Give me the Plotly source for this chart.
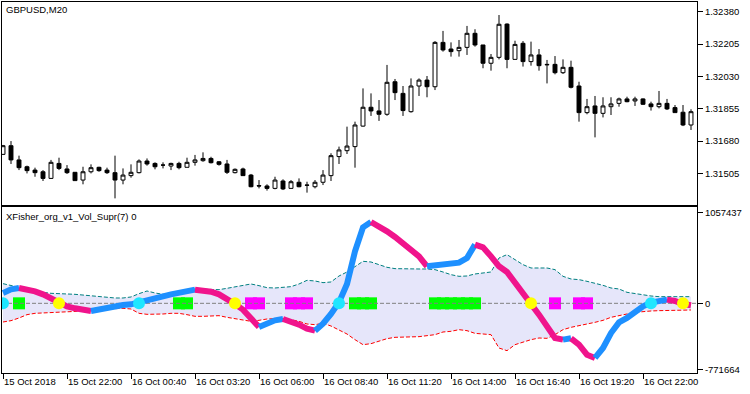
import plotly.graph_objects as go

# ---------------- data ----------------
bars = list(range(87))
time_ticks = [0, 8, 16, 24, 32, 40, 48, 56, 64, 72, 80]
time_labels = ["15 Oct 2018", "15 Oct 22:00", "16 Oct 00:40", "16 Oct 03:20",
               "16 Oct 06:00", "16 Oct 08:40", "16 Oct 11:20", "16 Oct 14:00",
               "16 Oct 16:40", "16 Oct 19:20", "16 Oct 22:00"]

open_ = [1.31608, 1.31655, 1.31578, 1.31541, 1.31523, 1.31514, 1.31478, 1.31559, 1.31529, 1.31511,
         1.31469, 1.31514, 1.31538, 1.31523, 1.31509, 1.31469, 1.31493, 1.31509, 1.31572, 1.31559,
         1.31550, 1.31545, 1.31559, 1.31538, 1.31565, 1.31574, 1.31586, 1.31568, 1.31556, 1.31509,
         1.31529, 1.31496, 1.31439, 1.31437, 1.31424, 1.31464, 1.31424, 1.31457, 1.31442, 1.31433,
         1.31457, 1.31493, 1.31596, 1.31628, 1.31650, 1.31761, 1.31863, 1.31843, 1.31825, 1.32001,
         1.31938, 1.31839, 1.31978, 1.32010, 1.31974, 1.32214, 1.32178, 1.32169, 1.32187, 1.32263,
         1.32200, 1.32101, 1.32133, 1.32313, 1.32122, 1.32209, 1.32110, 1.32146, 1.32095, 1.32095,
         1.32050, 1.32079, 1.31978, 1.31834, 1.31870, 1.31830, 1.31866, 1.31884, 1.31908, 1.31897,
         1.31908, 1.31881, 1.31866, 1.31884, 1.31861, 1.31836, 1.31767]
high = [1.31659, 1.31680, 1.31601, 1.31547, 1.31536, 1.31523, 1.31578, 1.31590, 1.31550, 1.31511,
        1.31541, 1.31554, 1.31541, 1.31536, 1.31601, 1.31532, 1.31554, 1.31581, 1.31586, 1.31565,
        1.31565, 1.31563, 1.31568, 1.31590, 1.31605, 1.31619, 1.31595, 1.31572, 1.31578, 1.31532,
        1.31536, 1.31502, 1.31469, 1.31446, 1.31487, 1.31473, 1.31469, 1.31478, 1.31460, 1.31469,
        1.31523, 1.31614, 1.31650, 1.31758, 1.31785, 1.31965, 1.31938, 1.31902, 1.32092, 1.32016,
        1.31978, 1.32019, 1.32019, 1.32032, 1.32221, 1.32276, 1.32214, 1.32227, 1.32303, 1.32285,
        1.32200, 1.32151, 1.32362, 1.32317, 1.32223, 1.32221, 1.32218, 1.32178, 1.32119, 1.32140,
        1.32122, 1.32115, 1.32001, 1.31908, 1.31924, 1.31917, 1.31917, 1.31915, 1.31920, 1.31920,
        1.31911, 1.31893, 1.31951, 1.31908, 1.31875, 1.31875, 1.31852]
low = [1.31605, 1.31556, 1.31523, 1.31505, 1.31487, 1.31464, 1.31475, 1.31523, 1.31502, 1.31466,
       1.31446, 1.31505, 1.31514, 1.31502, 1.31370, 1.31446, 1.31482, 1.31505, 1.31547, 1.31527,
       1.31532, 1.31523, 1.31527, 1.31538, 1.31547, 1.31568, 1.31559, 1.31547, 1.31502, 1.31505,
       1.31493, 1.31430, 1.31424, 1.31412, 1.31419, 1.31415, 1.31424, 1.31430, 1.31401, 1.31424,
       1.31442, 1.31464, 1.31556, 1.31610, 1.31536, 1.31758, 1.31816, 1.31789, 1.31817, 1.31902,
       1.31816, 1.31834, 1.31924, 1.31917, 1.31956, 1.32164, 1.32137, 1.32137, 1.32146, 1.32191,
       1.32074, 1.32061, 1.32122, 1.32074, 1.32122, 1.32083, 1.32088, 1.32061, 1.31992, 1.32041,
       1.32043, 1.31965, 1.31785, 1.31825, 1.31700, 1.31808, 1.31821, 1.31866, 1.31890, 1.31870,
       1.31875, 1.31845, 1.31857, 1.31848, 1.31834, 1.31761, 1.31740]
close = [1.31655, 1.31578, 1.31536, 1.31520, 1.31509, 1.31478, 1.31565, 1.31532, 1.31509, 1.31466,
         1.31514, 1.31536, 1.31520, 1.31509, 1.31469, 1.31496, 1.31511, 1.31572, 1.31556, 1.31541,
         1.31550, 1.31559, 1.31536, 1.31565, 1.31578, 1.31586, 1.31563, 1.31554, 1.31511, 1.31527,
         1.31493, 1.31433, 1.31437, 1.31424, 1.31469, 1.31421, 1.31460, 1.31433, 1.31441, 1.31457,
         1.31496, 1.31601, 1.31632, 1.31653, 1.31767, 1.31863, 1.31843, 1.31825, 1.31998, 1.31942,
         1.31845, 1.31978, 1.32010, 1.31974, 1.32214, 1.32173, 1.32164, 1.32187, 1.32263, 1.32200,
         1.32101, 1.32133, 1.32312, 1.32122, 1.32203, 1.32110, 1.32146, 1.32088, 1.32093, 1.32050,
         1.32079, 1.31971, 1.31834, 1.31866, 1.31830, 1.31870, 1.31881, 1.31908, 1.31893, 1.31908,
         1.31879, 1.31866, 1.31884, 1.31854, 1.31834, 1.31767, 1.31839]

price_ticks = [1.32380, 1.32205, 1.32030, 1.31855, 1.31680, 1.31505]

fisher = [120900, 163800, 179400, 167700, 140400, 105300, 58500, -7800, -35100, -58500,
          -78000, -89700, -70200, -46800, -31200, -19500, -11700, 7800, 27300, 54600,
          81900, 105300, 124800, 136500, 159900, 152100, 136500, 105300, 58500, -7800,
          -74100, -171600, -276900, -230100, -198900, -183300, -210600, -249600, -296400, -319800,
          -237900, -124800, 11700, 226200, 608400, 889200, 951600, 900900, 842400, 776100,
          705900, 639600, 549900, 432900, 440700, 452400, 460200, 475800, 530400, 686400,
          655200, 549900, 432900, 366600, 249600, 120900, -7800, -132600, -276900, -405600,
          -425100, -409500, -483600, -600600, -639600, -522600, -347100, -222300, -171600, -93600,
          -35100, 7800, 31200, 42900, 27300, -7800, -23400]
upper_band = [230100, 206700, 187200, 171600, 148200, 128700, 117000, 109200, 109200, 105300,
              97500, 89700, 74100, 70200, 62400, 62400, 74100, 113100, 144300, 120900,
              105300, 113100, 136500, 152100, 167700, 167700, 163800, 159900, 175500, 195000,
              214500, 226200, 206700, 183300, 179400, 187200, 195000, 226200, 269100, 261300,
              241800, 249600, 319800, 366600, 432900, 491400, 483600, 452400, 421200, 405600,
              401700, 401700, 401700, 401700, 393900, 366600, 335400, 315900, 319800, 343200,
              354900, 366600, 530400, 569400, 510900, 452400, 413400, 413400, 413400, 393900,
              315900, 284700, 276900, 257400, 237900, 210600, 179400, 167700, 128700, 113100,
              101400, 85800, 78000, 78000, 78000, 78000, 78000]
lower_band = [-218400, -202800, -171600, -132600, -117000, -113100, -109200, -105300, -101400, -93600,
              -93600, -85800, -70200, -66300, -62400, -58500, -66300, -117000, -128700, -128700,
              -124800, -117000, -117000, -132600, -152100, -152100, -144300, -144300, -163800, -179400,
              -198900, -210600, -198900, -183300, -179400, -179400, -191100, -210600, -241800, -249600,
              -234000, -265200, -312000, -358800, -425100, -483600, -471900, -444600, -413400, -397800,
              -397800, -397800, -390000, -378300, -366600, -335400, -327600, -308100, -319800, -351000,
              -358800, -366600, -522600, -553800, -483600, -452400, -425100, -405600, -409500, -366600,
              -308100, -280800, -257400, -241800, -222300, -198900, -163800, -148200, -124800, -105300,
              -93600, -89700, -85800, -85800, -85800, -85800, -78000]
cross_up = [0, 17, 42, 81]
cross_down = [7, 29, 66, 85]
vol_up_bars = [2, 22, 23, 44, 45, 46, 54, 55, 56, 57, 58, 59]
vol_down_bars = [31, 32, 36, 37, 38, 69, 72, 73]
ind_ticks = [1057437, 0, -771664]
ind_tick_text = ["1057437", "0", "-771664"]

# ---------------- style ----------------
FONT = "Liberation Sans"
FS = 9.5
XR = [-0.125, 86.75]
BLUE = "#1E90FF"
PINK = "#F0148C"

fig = go.Figure()

# top panel: candles
fig.add_trace(go.Candlestick(
    x=bars, open=open_, high=high, low=low, close=close,
    increasing=dict(line=dict(color="black", width=1), fillcolor="white"),
    decreasing=dict(line=dict(color="black", width=1), fillcolor="black"),
    whiskerwidth=0, xaxis="x", yaxis="y", hoverinfo="skip", showlegend=False))

# bottom panel: band fill
fig.add_trace(go.Scatter(x=bars, y=lower_band, mode="lines", line=dict(width=0),
                         xaxis="x2", yaxis="y2", showlegend=False, hoverinfo="skip"))
fig.add_trace(go.Scatter(x=bars, y=upper_band, mode="lines", line=dict(width=0),
                         fill="tonexty", fillcolor="#E6E6FA",
                         xaxis="x2", yaxis="y2", showlegend=False, hoverinfo="skip"))
fig.add_trace(go.Scatter(x=bars, y=upper_band, mode="lines",
                         line=dict(color="#008080", width=1, dash="4px,2px"),
                         xaxis="x2", yaxis="y2", showlegend=False, hoverinfo="skip"))
fig.add_trace(go.Scatter(x=bars, y=lower_band, mode="lines",
                         line=dict(color="#FF0000", width=1, dash="4px,2px"),
                         xaxis="x2", yaxis="y2", showlegend=False, hoverinfo="skip"))

# volume blocks
fig.add_trace(go.Scatter(x=vol_up_bars, y=[0] * len(vol_up_bars), mode="markers",
                         marker=dict(symbol="square", size=12, color="#00FF00", line=dict(width=0)),
                         xaxis="x2", yaxis="y2", showlegend=False, hoverinfo="skip"))
fig.add_trace(go.Scatter(x=vol_down_bars, y=[0] * len(vol_down_bars), mode="markers",
                         marker=dict(symbol="square", size=12, color="#FF00FF", line=dict(width=0)),
                         xaxis="x2", yaxis="y2", showlegend=False, hoverinfo="skip"))

# zero level
fig.add_trace(go.Scatter(x=XR, y=[0, 0], mode="lines",
                         line=dict(color="#808080", width=1, dash="4px,2px"),
                         xaxis="x2", yaxis="y2", showlegend=False, hoverinfo="skip"))

# fisher line coloured by direction
n = len(fisher)
start = 1
for i in range(2, n + 1):
    up_s = fisher[start] >= fisher[start - 1]
    if i == n or (fisher[i] >= fisher[i - 1]) != up_s:
        a, b = start - 1, i - 1
        fig.add_trace(go.Scatter(x=bars[a:b + 1], y=fisher[a:b + 1], mode="lines",
                                 line=dict(color=BLUE if up_s else PINK, width=6),
                                 xaxis="x2", yaxis="y2", showlegend=False, hoverinfo="skip"))
        start = i

# crossing circles
fig.add_trace(go.Scatter(x=cross_up, y=[0] * len(cross_up), mode="markers",
                         marker=dict(symbol="circle", size=12, color="#1EE6FF", line=dict(width=0)),
                         xaxis="x2", yaxis="y2", showlegend=False, hoverinfo="skip"))
fig.add_trace(go.Scatter(x=cross_down, y=[0] * len(cross_down), mode="markers",
                         marker=dict(symbol="circle", size=12, color="#FFFF00", line=dict(width=0)),
                         xaxis="x2", yaxis="y2", showlegend=False, hoverinfo="skip"))

axis_common = dict(showline=True, mirror=True, linecolor="black", linewidth=1,
                   showgrid=False, zeroline=False, tickcolor="black",
                   tickfont=dict(family=FONT, size=FS, color="black"))

fig.update_layout(
    width=750, height=394,
    margin=dict(l=2, r=53, t=2, b=21),
    paper_bgcolor="white", plot_bgcolor="white",
    showlegend=False,
    xaxis=dict(domain=[0, 1], range=XR, anchor="y", showticklabels=False, ticks="",
               rangeslider=dict(visible=False), **axis_common),
    yaxis=dict(domain=[0.4528, 1], range=[1.31334, 1.324325], anchor="x", side="right",
               ticks="outside", ticklen=5, tickvals=price_ticks,
               ticktext=[f"{v:.5f}" for v in price_ticks], **axis_common),
    xaxis2=dict(domain=[0, 1], range=XR, anchor="y2", ticks="outside", ticklen=5,
                tickvals=time_ticks, ticktext=time_labels, ticklabelposition="outside right",
                **axis_common),
    yaxis2=dict(domain=[0, 0.4461], range=[-815100, 1121000], anchor="x2", side="right",
                ticks="outside", ticklen=5, tickvals=ind_ticks, ticktext=ind_tick_text,
                **axis_common),
    annotations=[
        dict(text="GBPUSD,M20", xref="paper", yref="paper", x=0.003, y=0.9798,
             xanchor="left", yanchor="middle", showarrow=False,
             font=dict(family=FONT, size=FS, color="black")),
        dict(text="XFisher_org_v1_Vol_Supr(7) 0", xref="paper", yref="paper", x=0.003, y=0.4205,
             xanchor="left", yanchor="middle", showarrow=False,
             font=dict(family=FONT, size=FS, color="black")),
    ],
)

fig.write_html("out.html", config={"displayModeBar": False},
               post_script="document.body.style.margin='0';")
